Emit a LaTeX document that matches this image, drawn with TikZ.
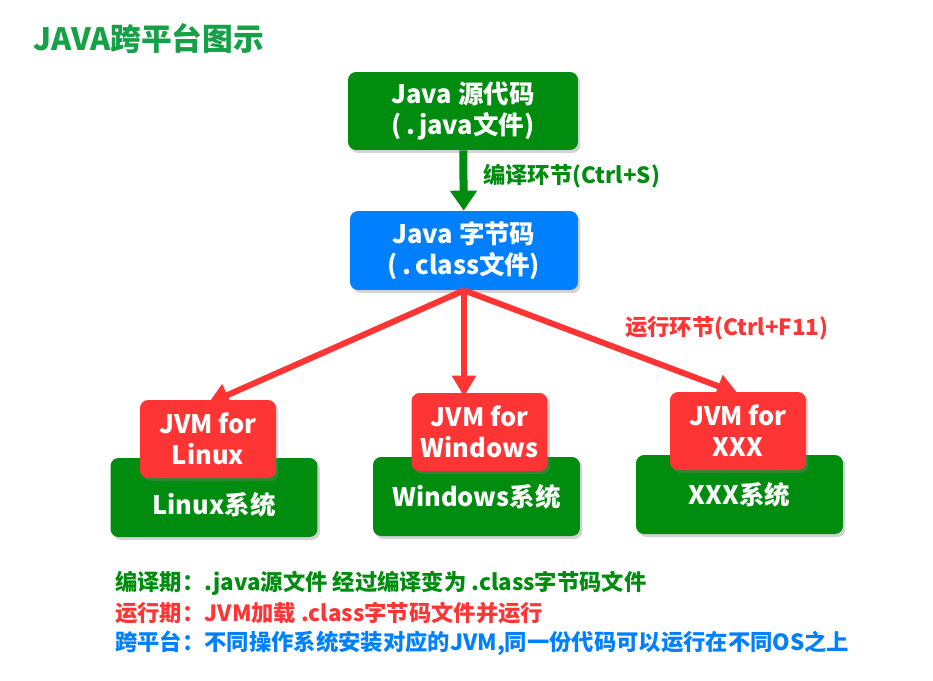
\documentclass[tikz,border=0pt]{standalone}
\usepackage{fontspec}
\setmainfont{Noto Sans CJK SC}
\usetikzlibrary{arrows.meta,shadows}
\definecolor{boxgreen}{RGB}{0,140,14}
\definecolor{boxblue}{RGB}{0,128,255}
\definecolor{boxred}{RGB}{255,52,52}
\definecolor{titlegreen}{RGB}{22,160,72}
\tikzstyle{box} = [rounded corners=0.16cm, inner sep=0pt, text=white, align=center,
  font=\fontsize{14.5}{17.5}\selectfont\bfseries,
  drop shadow={shadow xshift=0.05cm, shadow yshift=-0.06cm, opacity=0.35}]
\tikzstyle{jvm} = [box, fill=boxred, minimum width=2.72cm, minimum height=1.56cm]
\tikzstyle{sys} = [box, fill=boxgreen, minimum width=4.14cm, minimum height=1.58cm]
\tikzstyle{systext} = [text=white, font=\fontsize{14.5}{17.5}\selectfont\bfseries]
\tikzstyle{note} = [anchor=west, inner sep=0pt, font=\fontsize{12.7}{15}\selectfont\bfseries]
\tikzstyle{redarrow} = [draw=boxred, line width=0.12cm, -{Triangle[length=0.42cm, width=0.46cm]}]
\tikzstyle{greenarrow} = [draw=boxgreen, line width=0.16cm, -{Triangle[length=0.4cm, width=0.52cm]}]

\begin{document}
\begin{tikzpicture}[x=0.02cm, y=-0.02cm]
\useasboundingbox (0,0) rectangle (933,680);

% title
\node[anchor=west, inner sep=0pt, text=titlegreen, font=\fontsize{17.5}{20}\selectfont\bfseries] (title) at (33,39) {JAVA跨平台图示};

% source and bytecode
\node[box, fill=boxgreen, minimum width=4.6cm, minimum height=1.56cm] (src) at (463,111) {Java 源代码\\(\,.\,java文件)};
\node[box, fill=boxblue, minimum width=4.56cm, minimum height=1.58cm] (cls) at (464,250.5) {Java 字节码\\(\,.\,class文件)};
\draw[greenarrow] (src) -- (cls);
\node[note, text=boxgreen] (compile) at (483,176) {编译环节(Ctrl+S)};

% systems
\node[sys] (sysL) at (214,497.5) {};
\node[jvm] (jvmL) at (208,439) {JVM for\\Linux};
\node[systext] (sysLtext) at (214,505) {Linux系统};

\node[sys] (sysW) at (476.5,496.5) {};
\node[jvm] (jvmW) at (479.5,432) {JVM for\\Windows};
\node[systext] (sysWtext) at (476.5,497) {Windows系统};

\node[sys] (sysX) at (739.5,494.5) {};
\node[jvm] (jvmX) at (738,431) {JVM for\\XXX};
\node[systext] (sysXtext) at (739.5,495) {XXX系统};

% run arrows
\draw[redarrow] (cls.south) -- ([yshift=-0.08cm]jvmL.north);
\draw[redarrow] (cls.south) -- ([yshift=-0.08cm]cls.south |- jvmW.north);
\draw[redarrow] (cls.south) -- ([yshift=-0.04cm]jvmX.north);
\node[note, text=boxred] (run) at (625,328) {运行环节(Ctrl+F11)};

% notes
\node[note, text=boxgreen] (note1) at (115,583) {编译期：.java源文件 经过编译变为 .class字节码文件};
\node[note, text=boxred] (note2) at (115,613) {运行期：JVM加载 .class字节码文件并运行};
\node[note, text=boxblue] (note3) at (115,643) {跨平台：不同操作系统安装对应的JVM,同一份代码可以运行在不同OS之上};
\end{tikzpicture}
\end{document}
